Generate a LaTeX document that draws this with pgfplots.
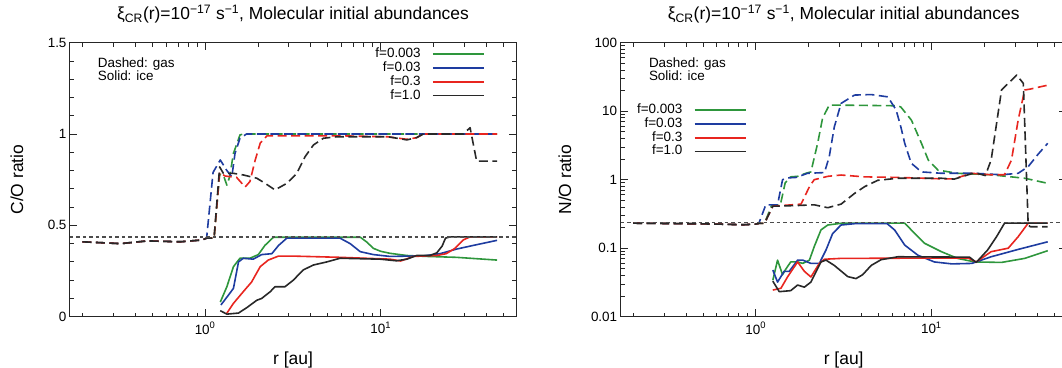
\documentclass[border=0pt]{standalone}
\usepackage{fontspec}
\setmainfont{Liberation Sans}
\usepackage{pgfplots}
\pgfplotsset{compat=1.18}
\definecolor{cgreen}{RGB}{46,150,60}
\definecolor{cblue}{RGB}{30,60,160}
\definecolor{cred}{RGB}{232,37,31}
\definecolor{cblack}{RGB}{40,40,40}
\tikzset{
  gas/.style={line width=1.6bp, dash pattern=on 9bp off 4.5bp, line join=round},
  ice/.style={line width=1.6bp, line join=round},
}
\pgfplotsset{
  myaxis/.style={
    scale only axis, width=446bp, height=274bp,
    xmin=0.17, xmax=59,
    xtick={1,10}, xticklabels={10\textsuperscript{0},10\textsuperscript{1}},
    minor xtick={0.2,0.3,0.4,0.5,0.6,0.7,0.8,0.9,2,3,4,5,6,7,8,9,20,30,40,50},
    tick align=inside, major tick length=7.5bp, minor tick length=4bp,
    axis line style={line width=1bp, black!85},
    every tick/.style={black!85, line width=0.8bp},
    tick label style={font=\fontsize{13.5}{15}\selectfont},
    xticklabel style={yshift=-2bp},
    title style={font=\fontsize{17.5}{20}\selectfont, at={(0.5,1.083)}, anchor=center},
    every axis x label/.style={at={(axis description cs:0.5,-0.158)},anchor=center,font=\fontsize{17.5}{20}\selectfont},
    legend style={draw=none, fill=none, inner sep=0pt, outer sep=0pt, font=\fontsize{13.5}{15}\selectfont,
      nodes={text height=9.5bp, text depth=2.8bp, inner ysep=0.75bp, inner xsep=2bp},
      row sep=0pt, /tikz/every odd column/.append style={column sep=9.5bp}},
    legend plot pos=right, legend cell align=right,
  }
}
\begin{document}
\begin{tikzpicture}
\path[use as bounding box] (0,0) rectangle (1062bp,368bp);
% ---------------- Left panel: C/O ----------------
\begin{axis}[xmode=log, myaxis, at={(70bp,51.3bp)}, anchor=south west,
  ymin=0, ymax=1.5, ytick={0,0.5,1,1.5}, yticklabels={0,0.5,1,1.5},
  minor ytick={0.1,0.2,0.3,0.4,0.6,0.7,0.8,0.9,1.1,1.2,1.3,1.4},
  every axis y label/.style={at={(axis description cs:-0.119,0.5)},rotate=90,anchor=center,font=\fontsize{17.5}{20}\selectfont},
  xlabel={r [au]}, ylabel={C/O ratio},
  title={ξ\textsubscript{CR}(r)=10\textsuperscript{−17} s\textsuperscript{−1}, Molecular initial abundances},
  legend style={at={(rel axis cs:0.93,0.983)}, anchor=north east},
  legend image code/.code={\draw[#1,solid] (0bp,0bp) -- (51bp,0bp);},
]
% gas
\addplot[gas, cgreen, forget plot] coordinates {(0.2,0.41) (0.33,0.40) (0.47,0.415) (0.72,0.41) (0.96,0.42) (1.02,0.43) (1.125,0.43) (1.21,0.78) (1.27,0.776) (1.33,0.72) (1.38,0.766) (1.45,0.894) (1.58,0.995) (1.65,1.0) (46,1.0)};
\addplot[gas, cblue, forget plot] coordinates {(0.2,0.41) (0.33,0.40) (0.47,0.415) (0.72,0.41) (0.96,0.42) (1.02,0.43) (1.11,0.79) (1.22,0.858) (1.33,0.80) (1.42,0.766) (1.48,0.894) (1.58,0.977) (1.72,1.0) (46,1.0)};
\addplot[gas, cred, forget plot] coordinates {(0.2,0.41) (0.33,0.40) (0.47,0.415) (0.72,0.41) (0.96,0.42) (1.02,0.43) (1.125,0.43) (1.21,0.79) (1.3,0.77) (1.51,0.763) (1.69,0.71) (1.80,0.74) (1.93,0.858) (2.06,0.95) (2.25,0.99) (6,0.99) (11,0.985) (14.1,0.971) (16,0.98) (17.5,1.0) (46,1.0)};
\addplot[gas, cblack, forget plot] coordinates {(0.2,0.41) (0.33,0.40) (0.47,0.415) (0.72,0.41) (0.96,0.42) (1.02,0.43) (1.125,0.43) (1.21,0.82) (1.27,0.785) (1.45,0.785) (1.65,0.776) (1.97,0.758) (2.2,0.73) (2.5,0.694) (2.92,0.73) (3.33,0.785) (3.71,0.876) (4.14,0.94) (4.72,0.977) (5.62,0.985) (11,0.985) (14.1,0.968) (16,0.98) (17.5,1.0) (29.6,1.0) (32.3,1.035) (35.2,0.852) (46,0.852)};
% ice
\addplot[ice, cgreen, forget plot] coordinates {(1.22,0.08) (1.33,0.164) (1.45,0.274) (1.58,0.32) (1.80,0.32) (2.01,0.34) (2.19,0.39) (2.45,0.435) (7.66,0.435) (8.3,0.41) (9.1,0.374) (10,0.358) (11.3,0.347) (14.1,0.335) (18.3,0.33) (27,0.325) (46,0.31)};
\addplot[ice, cblue, forget plot] coordinates {(1.23,0.064) (1.36,0.119) (1.45,0.155) (1.55,0.30) (1.65,0.32) (1.88,0.315) (2.1,0.34) (2.4,0.345) (2.62,0.39) (2.92,0.43) (5.87,0.43) (6.7,0.40) (7.65,0.356) (9.1,0.34) (11.3,0.33) (17.5,0.333) (21.8,0.345) (27,0.37) (33.6,0.39) (46,0.418)};
\addplot[ice, cred, forget plot] coordinates {(1.33,0.019) (1.45,0.073) (1.65,0.137) (1.84,0.19) (2.06,0.274) (2.29,0.31) (2.62,0.332) (3.1,0.332) (5.87,0.325) (11.3,0.315) (13,0.305) (15.4,0.33) (20.9,0.335) (23.6,0.345) (26.5,0.374) (29.5,0.42) (32.3,0.437) (46,0.437)};
\addplot[ice, cblack, forget plot] coordinates {(1.22,0.033) (1.33,0.014) (1.55,0.02) (1.73,0.05) (1.97,0.09) (2.1,0.10) (2.35,0.137) (2.5,0.164) (2.85,0.164) (3.18,0.2) (3.62,0.256) (4.14,0.283) (4.94,0.30) (5.87,0.32) (9.9,0.315) (12.3,0.306) (14.1,0.315) (16,0.335) (19.1,0.335) (20.9,0.35) (22.4,0.387) (23.4,0.43) (24.8,0.437) (46,0.437)};
% reference
\addplot[forget plot, black!70, line width=1.3bp, dash pattern=on 3.5bp off 3bp] coordinates {(0.17,0.437) (59,0.437)};
\addlegendimage{cgreen, line width=1.6bp}\addlegendentry{f=0.003}
\addlegendimage{cblue, line width=1.6bp}\addlegendentry{f=0.03}
\addlegendimage{cred, line width=1.6bp}\addlegendentry{f=0.3}
\addlegendimage{cblack, line width=1.6bp}\addlegendentry{f=1.0}
\node[anchor=north west, align=left, font=\fontsize{13.5}{13.5}\selectfont, inner sep=0pt] at (rel axis cs:0.062,0.946) {Dashed: gas\\Solid: ice};
\end{axis}
% ---------------- Right panel: N/O ----------------
\begin{axis}[xmode=log, ymode=log, myaxis, at={(620.7bp,51.3bp)}, anchor=south west,
  ymin=0.01, ymax=100, ytick={0.01,0.1,1,10,100}, yticklabels={0.01,0.1,1,10,100},
  minor ytick={0.02,0.03,0.04,0.05,0.06,0.07,0.08,0.09,0.2,0.3,0.4,0.5,0.6,0.7,0.8,0.9,2,3,4,5,6,7,8,9,20,30,40,50,60,70,80,90},
  every axis y label/.style={at={(axis description cs:-0.125,0.5)},rotate=90,anchor=center,font=\fontsize{17.5}{20}\selectfont},
  xlabel={r [au]}, ylabel={N/O ratio},
  title={ξ\textsubscript{CR}(r)=10\textsuperscript{−17} s\textsuperscript{−1}, Molecular initial abundances},
  legend style={at={(rel axis cs:0.282,0.779)}, anchor=north east},
  legend image code/.code={\draw[#1,solid] (0bp,0bp) -- (51bp,0bp);},
]
% gas
\addplot[gas, cgreen, forget plot] coordinates {(0.2,0.232) (0.4,0.228) (0.6,0.225) (0.85,0.22) (1.0,0.225) (1.04,0.23) (1.12,0.23) (1.23,0.42) (1.38,0.43) (1.47,0.9) (1.58,1.1) (1.73,1.12) (1.93,1.24) (2.06,1.3) (2.25,3.4) (2.4,7.9) (2.62,12.3) (6.45,12.0) (6.7,11.5) (7.7,7.4) (8.78,3.4) (9.6,1.94) (10.9,1.38) (14.1,1.24) (21.9,1.18) (34,1.05) (46,0.885)};
\addplot[gas, cblue, forget plot] coordinates {(0.2,0.232) (0.4,0.228) (0.6,0.225) (0.85,0.22) (1.0,0.225) (1.04,0.23) (1.14,0.43) (1.33,0.43) (1.42,1.0) (1.5,1.06) (1.7,1.08) (1.97,1.24) (2.46,1.27) (2.62,2.17) (2.8,5.9) (3.06,13) (3.65,17.2) (4.54,17.5) (5.65,16.2) (6.3,10.4) (6.7,5.9) (7.05,3.4) (7.68,1.74) (8.78,1.3) (11.4,1.24) (17.7,1.24) (25.1,1.18) (31.2,1.24) (35.6,1.55) (40.8,2.4) (46,3.4)};
\addplot[gas, cred, forget plot] coordinates {(0.2,0.232) (0.4,0.228) (0.6,0.225) (0.85,0.22) (1.0,0.225) (1.04,0.23) (1.12,0.23) (1.25,0.41) (1.81,0.44) (2.02,0.79) (2.15,1.0) (2.57,1.12) (3.06,1.17) (4.16,1.1) (6.45,1.08) (11.4,1.03) (13.5,1.03) (16.9,1.24) (21.9,1.18) (26.1,1.18) (28.6,1.94) (31.2,7.4) (34,20.4) (36.5,21) (46,24)};
\addplot[gas, cblack, forget plot] coordinates {(0.2,0.232) (0.4,0.228) (0.6,0.225) (0.85,0.22) (1.0,0.225) (1.04,0.23) (1.12,0.23) (1.25,0.41) (1.73,0.42) (2.15,0.43) (2.57,0.39) (3.06,0.44) (3.65,0.63) (4.16,0.79) (4.95,0.98) (6.45,1.05) (11.4,1.05) (13.5,1.02) (16.2,1.18) (17.7,1.26) (20.3,1.15) (21.9,1.94) (25.1,20.4) (30.6,33.7) (33.4,25.5) (35.6,0.218) (36.6,0.206) (46,0.206)};
% ice
\addplot[ice, cgreen, forget plot] coordinates {(1.25,0.034) (1.33,0.067) (1.42,0.041) (1.47,0.048) (1.58,0.063) (1.73,0.063) (1.85,0.06) (2.02,0.067) (2.15,0.105) (2.35,0.185) (2.57,0.218) (3.1,0.232) (7.05,0.232) (8.0,0.166) (9.14,0.118) (11.4,0.089) (14.1,0.071) (17.7,0.063) (25.1,0.062) (34,0.071) (46,0.092)};
\addplot[ice, cblue, forget plot] coordinates {(1.25,0.048) (1.33,0.032) (1.45,0.046) (1.55,0.046) (1.73,0.067) (1.85,0.067) (2.06,0.06) (2.3,0.06) (2.51,0.094) (2.74,0.164) (3.06,0.218) (3.65,0.228) (5.6,0.228) (6.17,0.185) (7.05,0.111) (8.38,0.079) (10.4,0.063) (13.1,0.059) (17,0.06) (21.9,0.075) (31.2,0.096) (46,0.124)};
\addplot[ice, cred, forget plot] coordinates {(1.25,0.0245) (1.39,0.026) (1.52,0.0385) (1.73,0.063) (1.89,0.046) (2.06,0.038) (2.3,0.06) (2.46,0.069) (3.06,0.071) (16.2,0.072) (18.0,0.063) (21.9,0.089) (27.4,0.1) (31.2,0.147) (35.6,0.232) (46,0.232)};
\addplot[ice, cblack, forget plot] coordinates {(1.25,0.033) (1.36,0.0232) (1.58,0.024) (1.73,0.029) (1.89,0.027) (2.06,0.032) (2.2,0.045) (2.35,0.063) (2.51,0.067) (2.8,0.056) (3.34,0.0385) (3.72,0.036) (4.06,0.041) (4.54,0.056) (5.17,0.068) (6.45,0.075) (16.5,0.074) (18.0,0.062) (20.9,0.094) (23.5,0.147) (26.1,0.232) (46,0.232)};
\addplot[forget plot, black!70, line width=1.3bp, dash pattern=on 3.5bp off 3bp] coordinates {(0.17,0.236) (59,0.236)};
\addlegendimage{cgreen, line width=1.6bp}\addlegendentry{f=0.003}
\addlegendimage{cblue, line width=1.6bp}\addlegendentry{f=0.03}
\addlegendimage{cred, line width=1.6bp}\addlegendentry{f=0.3}
\addlegendimage{cblack, line width=1.6bp}\addlegendentry{f=1.0}
\node[anchor=north west, align=left, font=\fontsize{13.5}{13.5}\selectfont, inner sep=0pt] at (rel axis cs:0.063,0.946) {Dashed: gas\\Solid: ice};
\end{axis}
\end{tikzpicture}
\end{document}
